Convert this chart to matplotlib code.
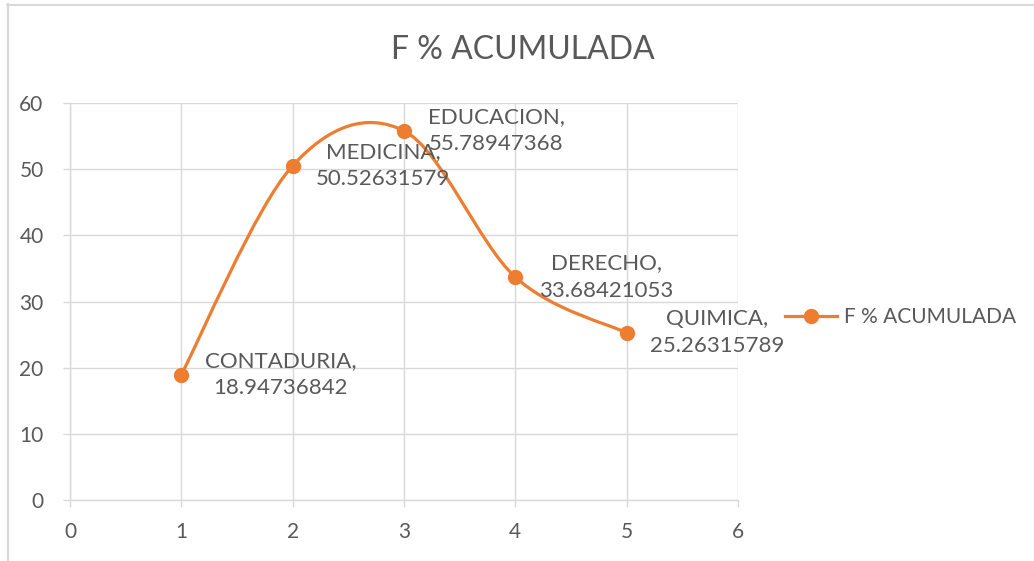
import matplotlib
matplotlib.use("Agg")
import matplotlib.pyplot as plt
from matplotlib.path import Path
from matplotlib.patches import PathPatch
from matplotlib.lines import Line2D

plt.rcParams["font.family"] = ["Lato", "DejaVu Sans"]

TITLE = "F % ACUMULADA"
x_vals = [1, 2, 3, 4, 5]
y_vals = [18.94736842, 50.52631579, 55.78947368, 33.68421053, 25.26315789]
names = ["CONTADURIA", "MEDICINA", "EDUCACION", "DERECHO", "QUIMICA"]
x_ticks = [0, 1, 2, 3, 4, 5, 6]
y_ticks = [0, 10, 20, 30, 40, 50, 60]

ORANGE = "#ED7D31"
TEXT = "#595959"
GRID = "#D9D9D9"


def smooth_path(xs, ys):
    # Excel-style smoothed line: cubic bezier with catmull-rom control points
    pts = list(zip(xs, ys))
    verts = [pts[0]]
    codes = [Path.MOVETO]
    n = len(pts)
    for i in range(n - 1):
        p0 = pts[max(i - 1, 0)]
        p1 = pts[i]
        p2 = pts[i + 1]
        p3 = pts[min(i + 2, n - 1)]
        c1 = (p1[0] + (p2[0] - p0[0]) / 6, p1[1] + (p2[1] - p0[1]) / 6)
        c2 = (p2[0] - (p3[0] - p1[0]) / 6, p2[1] - (p3[1] - p1[1]) / 6)
        verts += [c1, c2, p2]
        codes += [Path.CURVE4] * 3
    return Path(verts, codes)


W, H = 1034, 561
fig = plt.figure(figsize=(W / 100, H / 100), dpi=100)
ax = fig.add_axes([70 / W, 1 - 500 / H, 668 / W, 397 / H])

ax.add_patch(PathPatch(smooth_path(x_vals, y_vals), facecolor="none",
                       edgecolor=ORANGE, lw=2.3, zorder=3))
ax.plot(x_vals, y_vals, "o", color=ORANGE, ms=10, zorder=4)

for x, y, n in zip(x_vals, y_vals, names):
    ax.annotate(f"{n},\n{y:.8f}", (x, y), xytext=(17, 0),
                textcoords="offset points", ha="left", va="center",
                multialignment="center", fontsize=16, color=TEXT,
                linespacing=1.45, zorder=5)

ax.set_xlim(0, 6)
ax.set_ylim(0, 60)
ax.set_xticks(x_ticks)
ax.set_yticks(y_ticks)
ax.grid(True, color=GRID, lw=1)
ax.set_axisbelow(True)
for s in ["top", "right"]:
    ax.spines[s].set_visible(False)
for s in ["left", "bottom"]:
    ax.spines[s].set_color(GRID)
    ax.spines[s].set_linewidth(1)
ax.tick_params(colors=GRID, labelcolor=TEXT, labelsize=15, length=5,
               width=1, direction="out")
ax.tick_params(axis="y", pad=14)
ax.tick_params(axis="x", pad=11)

fig.text(523 / W, 1 - 50 / H, TITLE, ha="center", va="center",
         fontsize=23, color=TEXT)

handle = Line2D([], [], color=ORANGE, lw=2.3, marker="o", ms=10)
fig.legend([handle], [TITLE], loc="center left",
           bbox_to_anchor=(766 / W, 1 - 317 / H), frameon=False,
           fontsize=15, labelcolor=TEXT, handlelength=2.5, handletextpad=0.35)

# chart border
fig.add_artist(Line2D([7 / W, 1], [1 - 4.5 / H] * 2, color=GRID, lw=1.5))
fig.add_artist(Line2D([7.5 / W] * 2, [0, 1 - 4 / H], color=GRID, lw=1.5))

fig.savefig("out.png", dpi=100)
